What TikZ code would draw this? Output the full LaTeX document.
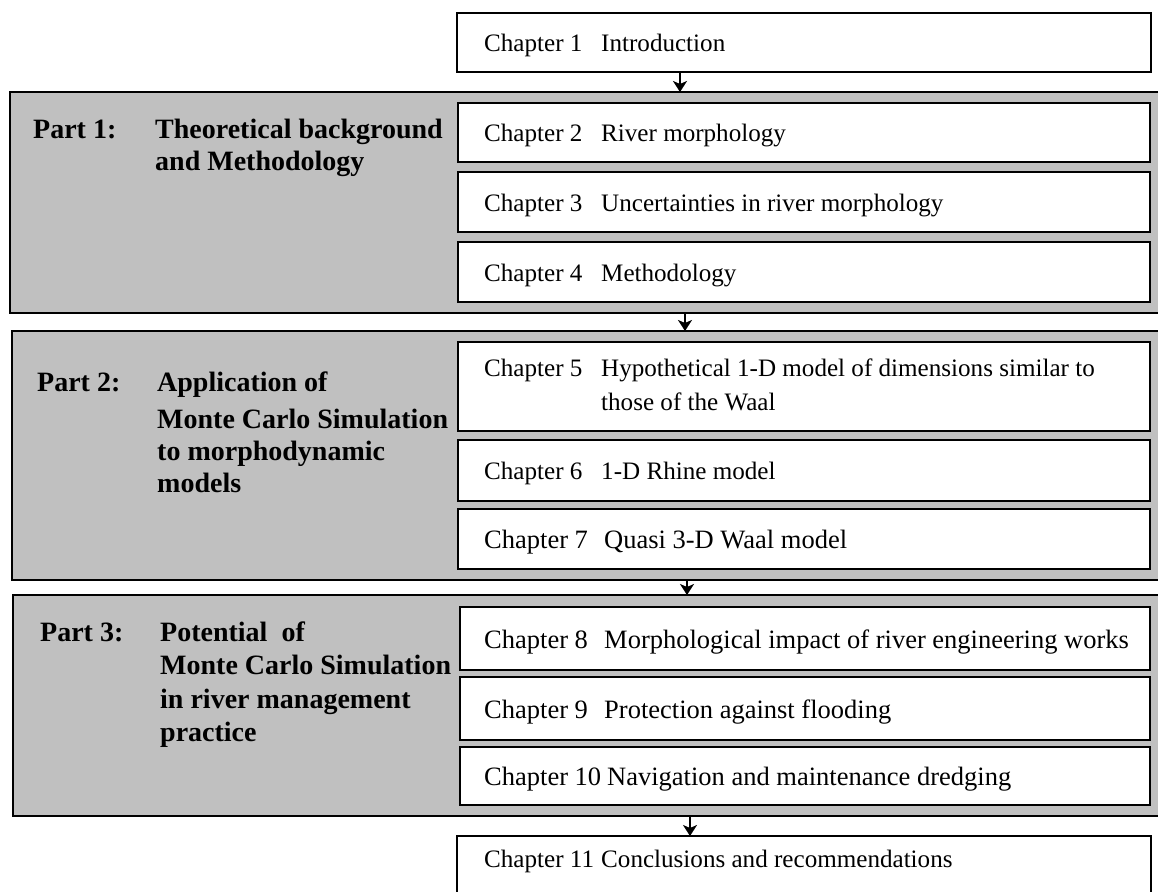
\documentclass[tikz,border=0pt]{standalone}
\usepackage{fontspec}
\setmainfont{Liberation Serif}
\usetikzlibrary{arrows.meta,fit}
\definecolor{partgray}{RGB}{192,192,192}
\begin{document}
\begin{tikzpicture}[x=1pt,y=-1pt,
  chapbox/.style={draw=black, line width=2.6pt, fill=white, inner sep=0pt, outer sep=0pt},
  partbox/.style={draw=black, line width=2.6pt, fill=partgray, inner sep=0pt, outer sep=0pt},
  chaptxt/.style={anchor=base west, inner sep=0pt, font=\fontsize{25.1}{29}\selectfont},
  bigchaptxt/.style={anchor=base west, inner sep=0pt, font=\fontsize{26.5}{31}\selectfont},
  parttxt/.style={anchor=base west, inner sep=0pt, font=\fontsize{28}{32}\selectfont\bfseries},
  arr/.style={line width=2.4pt, -{Stealth[width=14pt,length=11pt,inset=3pt]}}]

\useasboundingbox (0,0) rectangle (1158,891);

% part panels (they run past the right edge of the page)
\node[partbox, fit={(10,92) (1180,313)}] (p1) {};
\node[partbox, fit={(12,331) (1180,580)}] (p2) {};
\node[partbox, fit={(13,595) (1180,816)}] (p3) {};

% chapter boxes
\node[chapbox, fit={(457,13) (1151,72)}] (c1) {};
\node[chapbox, fit={(458,103) (1150,162)}] (c2) {};
\node[chapbox, fit={(458,172) (1150,232)}] (c3) {};
\node[chapbox, fit={(458,242) (1150,302)}] (c4) {};
\node[chapbox, fit={(458,342) (1150,431)}] (c5) {};
\node[chapbox, fit={(458,440) (1150,501)}] (c6) {};
\node[chapbox, fit={(458,509) (1150,569)}] (c7) {};
\node[chapbox, fit={(460,607) (1150,670)}] (c8) {};
\node[chapbox, fit={(460,677) (1150,740)}] (c9) {};
\node[chapbox, fit={(460,747) (1150,805)}] (c10) {};
\node[chapbox, fit={(457,836) (1151,905)}] (c11) {};

% part titles
\node[parttxt] (p1n) at (33,138) {Part 1:};
\node[parttxt] (p1t) at (155,138) {Theoretical background};
\node[parttxt] (p1u) at (155,170) {and Methodology};

\node[parttxt] (p2n) at (37,391) {Part 2:};
\node[parttxt] (p2t) at (157,391) {Application of};
\node[parttxt] (p2u) at (157,428) {Monte Carlo Simulation};
\node[parttxt] (p2v) at (157,460) {to morphodynamic};
\node[parttxt] (p2w) at (157,492) {models};

\node[parttxt] (p3n) at (40,641) {Part 3:};
\node[parttxt] (p3t) at (160,641) {Potential~~of};
\node[parttxt] (p3u) at (160,674) {Monte Carlo Simulation};
\node[parttxt] (p3v) at (160,708) {in river management};
\node[parttxt] (p3w) at (160,741) {practice};

% chapter titles
\node[chaptxt] (c1n) at (484,51.5) {Chapter 1};
\node[chaptxt] (c1t) at (601,51.5) {Introduction};
\node[chaptxt] (c2n) at (484,141.5) {Chapter 2};
\node[chaptxt] (c2t) at (601,141.5) {River morphology};
\node[chaptxt] (c3n) at (484,211) {Chapter 3};
\node[chaptxt] (c3t) at (601,211) {Uncertainties in river morphology};
\node[chaptxt] (c4n) at (484,281) {Chapter 4};
\node[chaptxt] (c4t) at (601,281) {Methodology};
\node[chaptxt] (c5n) at (484,376) {Chapter 5};
\node[chaptxt] (c5t) at (601,376) {Hypothetical 1-D model of dimensions similar to};
\node[chaptxt] (c5u) at (601,410) {those of the Waal};
\node[chaptxt] (c6n) at (484,479.5) {Chapter 6};
\node[chaptxt] (c6t) at (601,479.5) {1-D Rhine model};
\node[bigchaptxt] (c7n) at (484,548.5) {Chapter 7};
\node[bigchaptxt] (c7t) at (604,548.5) {Quasi 3-D Waal model};
\node[bigchaptxt] (c8n) at (484,648) {Chapter 8};
\node[bigchaptxt] (c8t) at (604,648) {Morphological impact of river engineering works};
\node[bigchaptxt] (c9n) at (484,718) {Chapter 9};
\node[bigchaptxt] (c9t) at (604,718) {Protection against flooding};
\node[bigchaptxt] (c10n) at (484,785.5) {Chapter 10};
\node[bigchaptxt] (c10t) at (607,785.5) {Navigation and maintenance dredging};
\node[chaptxt] (c11n) at (484,867) {Chapter 11};
\node[chaptxt] (c11t) at (601,867) {Conclusions and recommendations};

% connectors between the stages
\coordinate (a1) at (680,0);
\coordinate (a2) at (685,0);
\coordinate (a3) at (687,0);
\coordinate (a4) at (690,0);
\draw[arr] (c1.south -| a1) -- (p1.north -| a1);
\draw[arr] (p1.south -| a2) -- (p2.north -| a2);
\draw[arr] (p2.south -| a3) -- (p3.north -| a3);
\draw[arr] (p3.south -| a4) -- (c11.north -| a4);
\end{tikzpicture}
\end{document}
